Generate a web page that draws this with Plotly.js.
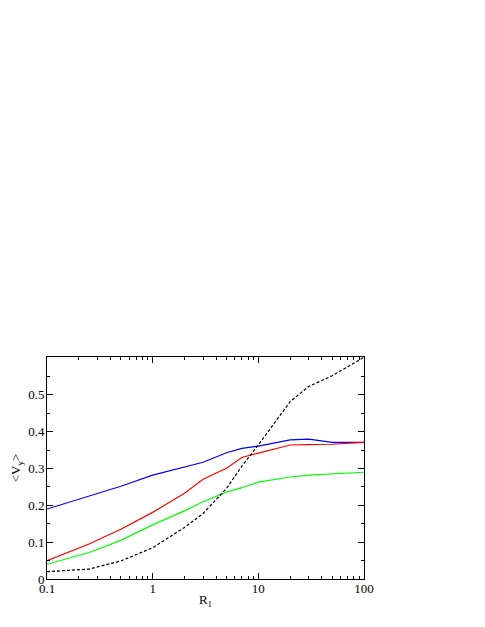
<!DOCTYPE html>
<html lang="en">
<head>
    <meta charset="UTF-8">
    <title>Vy vs R1</title>
    <script src="https://cdn.plot.ly/plotly-3.0.1.min.js"></script>
    <style>
        body { margin: 0; background: #fff; }
        #plot { width: 485px; height: 627px; }
    </style>
</head>
<body>
<div id="plot"></div>
<script>
// R1 sample points
let rValues = [0.1, 0.25, 0.5, 1, 2, 3, 5, 7, 10, 20, 30, 50, 100];

let blueVy  = [0.190, 0.226, 0.252, 0.282, 0.305, 0.317, 0.343, 0.355, 0.361, 0.378, 0.380, 0.371, 0.371];
let redVy   = [0.050, 0.095, 0.135, 0.181, 0.233, 0.271, 0.301, 0.330, 0.342, 0.364, 0.365, 0.366, 0.371];
let greenVy = [0.040, 0.072, 0.105, 0.147, 0.185, 0.210, 0.236, 0.248, 0.263, 0.277, 0.282, 0.285, 0.290];
let blackVy = [0.020, 0.027, 0.049, 0.085, 0.140, 0.178, 0.246, 0.307, 0.364, 0.482, 0.523, 0.552, 0.602];

let xTickVals = [0.1, 1, 10, 100];
let xTickText = ['0.1', '1', '10', '100'];
let xMinorVals = [0.2, 0.3, 0.4, 0.5, 0.6, 0.7, 0.8, 0.9,
                  2, 3, 4, 5, 6, 7, 8, 9,
                  20, 30, 40, 50, 60, 70, 80, 90];
let yTickVals = [0, 0.1, 0.2, 0.3, 0.4, 0.5];
let yTickText = ['0', '0.1', '0.2', '0.3', '0.4', '0.5'];
let yMinorVals = [0.05, 0.15, 0.25, 0.35, 0.45, 0.55];

function line(y, color, dash) {
    return {
        x: rValues,
        y: y,
        mode: 'lines',
        type: 'scatter',
        line: { color: color, width: 1.2, dash: dash || 'solid' },
        hoverinfo: 'skip'
    };
}

let data = [
    line(blueVy, '#0000ff'),
    line(redVy, '#ff0000'),
    line(greenVy, '#00ff00'),
    line(blackVy, '#000000', '3px,2px')
];

let serif = 'Liberation Serif, Times New Roman, serif';

let axisCommon = {
    showline: true,
    linecolor: '#000',
    linewidth: 1,
    mirror: 'allticks',
    ticks: 'inside',
    ticklen: 6,
    tickcolor: '#000',
    showgrid: false,
    zeroline: false,
    tickmode: 'array',
    tickfont: { family: serif, size: 13, color: '#000' }
};

let layout = {
    width: 485,
    height: 627,
    margin: { l: 47, r: 121, t: 357, b: 48 },
    paper_bgcolor: '#fff',
    plot_bgcolor: '#fff',
    showlegend: false,
    xaxis: Object.assign({}, axisCommon, {
        type: 'log',
        range: [-1, 2],
        tickvals: xTickVals,
        ticktext: xTickText,
        ticklabelstandoff: -3,
        minor: { tickvals: xMinorVals, ticks: 'inside', ticklen: 3, tickcolor: '#000', showgrid: false },
        title: { text: 'R<sub>1</sub>', standoff: 0, font: { family: serif, size: 13, color: '#000' } }
    }),
    yaxis: Object.assign({}, axisCommon, {
        range: [0, 0.603],
        tickvals: yTickVals,
        ticktext: yTickText,
        ticklabelstandoff: -1,
        minor: { tickvals: yMinorVals, ticks: 'inside', ticklen: 3, tickcolor: '#000', showgrid: false },
        title: { text: '&lt;V<sub>y</sub>&gt;', standoff: 4, font: { family: serif, size: 13, color: '#000' } }
    })
};

Plotly.newPlot('plot', data, layout, { displayModeBar: false, staticPlot: true });
</script>
</body>
</html>
